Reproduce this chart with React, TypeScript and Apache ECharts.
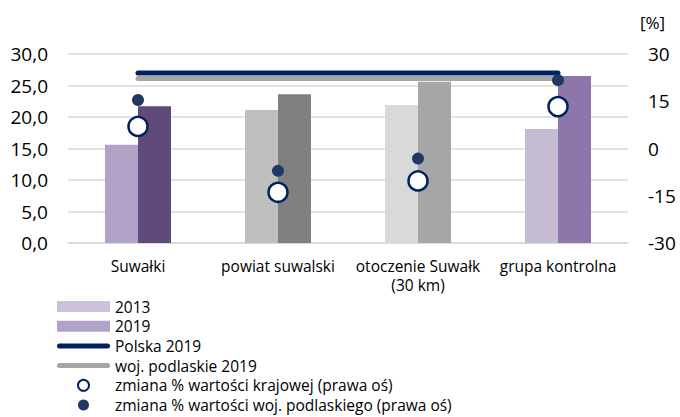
import React, { useEffect, useRef } from "react";
import * as echarts from "echarts";

const categories = ["Suwałki", "powiat suwalski", "otoczenie Suwałk\n(30 km)", "grupa kontrolna"];
const values2013 = [15.6, 21.1, 21.9, 18.1];
const values2019 = [21.7, 23.6, 25.6, 26.5];
const polska2019 = [27.0, 27.0, 27.0, 27.0];
const podlaskie2019 = [26.1, 26.1, 26.1, 26.1];
const zmianaKrajowa = [7.0, -13.9, -10.3, 13.3];
const zmianaPodlaska = [15.4, -7.1, -3.2, 21.7];

const colors2013 = ["#b2a2c7", "#bfbfbf", "#d9d9d9", "#c5bbd3"];
const colors2019 = ["#604a7b", "#808080", "#a6a6a6", "#8e76ab"];

const FONT = "Open Sans";
const lineIcon = "path://M2.5,0 L50.5,0 A2.5,2.5 0 0 1 50.5,5 L2.5,5 A2.5,2.5 0 0 1 2.5,0 Z";

export default function App() {
  const ref = useRef<HTMLDivElement>(null);
  useEffect(() => {
    if (!ref.current) return;
    const chart = echarts.init(ref.current, undefined, { renderer: "svg" });
    chart.setOption({
      animation: false,
      backgroundColor: "#ffffff",
      textStyle: { fontFamily: FONT, color: "#000" },
      grid: { left: 68, right: 52, top: 54, bottom: 174, containLabel: false },
      legend: {
        orient: "vertical",
        left: 57,
        top: 297,
        height: 120,
        padding: 0,
        itemWidth: 53,
        itemHeight: 11,
        itemGap: 0.7,
        textStyle: { fontFamily: FONT, fontSize: 15.5, lineHeight: 19, color: "#000" },
        data: [
          { name: "2013", icon: "rect", itemStyle: { color: "#ccc1da" } },
          { name: "2019", icon: "rect", itemStyle: { color: "#b2a2c7" } },
          { name: "Polska 2019", icon: lineIcon, itemStyle: { color: "#002060" } },
          { name: "woj. podlaskie 2019", icon: lineIcon, itemStyle: { color: "#a6a6a6" } },
          { name: "zmiana % wartości krajowej (prawa oś)", icon: "circle" },
          { name: "zmiana % wartości woj. podlaskiego (prawa oś)", icon: "circle" },
        ],
      },
      xAxis: {
        type: "category",
        data: categories,
        axisLine: { show: true, lineStyle: { color: "#d9d9d9", width: 1.5 } },
        axisTick: { show: false },
        axisLabel: { interval: 0, fontFamily: FONT, fontSize: 15.5, color: "#000", margin: 13, lineHeight: 19 },
      },
      yAxis: [
        {
          type: "value",
          min: 0,
          max: 30,
          interval: 5,
          axisLine: { show: false },
          axisTick: { show: false },
          splitLine: { lineStyle: { color: "#d9d9d9", width: 1.5 } },
          axisLabel: {
            fontFamily: FONT,
            fontSize: 19,
            color: "#000",
            margin: 20,
            formatter: (v: number) => v.toFixed(1).replace(".", ","),
          },
        },
        {
          type: "value",
          min: -30,
          max: 30,
          interval: 15,
          position: "right",
          name: "[%]",
          nameLocation: "end",
          nameGap: 23,
          nameTextStyle: { fontFamily: FONT, fontSize: 17, color: "#000", align: "left", padding: [0, 0, 0, 12] },
          axisLine: { show: false },
          axisTick: { show: false },
          splitLine: { show: false },
          axisLabel: { fontFamily: FONT, fontSize: 19, color: "#000", margin: 20 },
        },
      ],
      series: [
        {
          name: "2013",
          type: "bar",
          barWidth: 33,
          barGap: "0%",
          itemStyle: { color: "#ccc1da" },
          data: values2013.map((v, i) => ({ value: v, itemStyle: { color: colors2013[i] } })),
          z: 1,
        },
        {
          name: "2019",
          type: "bar",
          barWidth: 33,
          barGap: "0%",
          itemStyle: { color: "#b2a2c7" },
          data: values2019.map((v, i) => ({ value: v, itemStyle: { color: colors2019[i] } })),
          z: 1,
        },
        {
          name: "woj. podlaskie 2019",
          type: "line",
          data: podlaskie2019,
          symbol: "none",
          itemStyle: { color: "#a6a6a6" },
          lineStyle: { color: "#a6a6a6", width: 5, cap: "round" },
          z: 3,
        },
        {
          name: "Polska 2019",
          type: "line",
          data: polska2019,
          symbol: "none",
          itemStyle: { color: "#002060" },
          lineStyle: { color: "#002060", width: 5, cap: "round" },
          z: 4,
        },
        {
          name: "zmiana % wartości krajowej (prawa oś)",
          type: "scatter",
          yAxisIndex: 1,
          data: zmianaKrajowa,
          symbol: "circle",
          symbolSize: 19,
          itemStyle: { color: "#ffffff", borderColor: "#002060", borderWidth: 2.5, opacity: 1 },
          z: 5,
        },
        {
          name: "zmiana % wartości woj. podlaskiego (prawa oś)",
          type: "scatter",
          yAxisIndex: 1,
          data: zmianaPodlaska,
          symbol: "circle",
          symbolSize: 12,
          itemStyle: { color: "#1f3864", opacity: 1 },
          z: 6,
        },
      ],
    });
    return () => chart.dispose();
  }, []);
  return (
    <div
      ref={ref}
      style={{ position: "absolute", left: 0, top: 0, width: 680, height: 417 }}
    />
  );
}
